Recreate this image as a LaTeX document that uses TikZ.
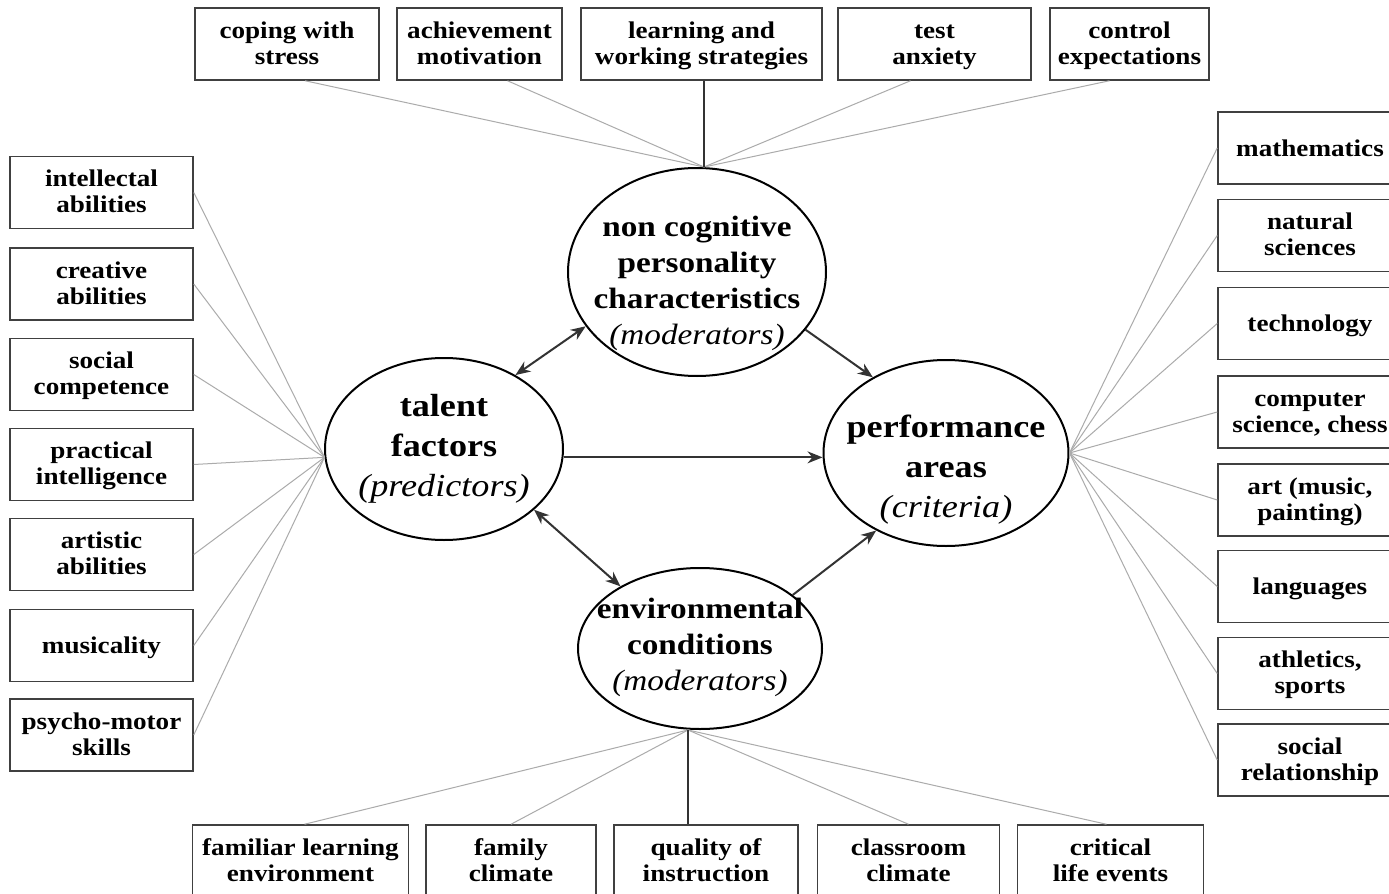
\documentclass[tikz,border=0pt]{standalone}
\usepackage{fontspec}
\setmainfont{Liberation Serif}[FakeStretch=1.13]
\usetikzlibrary{arrows.meta,shapes.geometric}
\newcommand\twoline[2]{\rule{0pt}{10pt}#1\\#2\rule[-3pt]{0pt}{3pt}}
\newcommand\oneline[1]{\rule[-3pt]{0pt}{14pt}#1}
\begin{document}
\begin{tikzpicture}[x=0.5pt,y=-0.5pt,
  box/.style={draw=black!75, line width=0.75pt, align=center, inner sep=0pt,
    minimum height=36pt, font=\fontsize{12}{13}\selectfont\bfseries},
  lbox/.style={box, minimum width=91.5pt},
  rbox/.style={box, minimum width=92pt},
  ell/.style={draw=black, line width=1pt, ellipse, inner sep=0pt},
  etxt/.style={align=center, inner sep=0pt},
  small/.style={font=\fontsize{14.7}{18}\selectfont},
  big/.style={font=\fontsize{16}{20}\selectfont},
  thin/.style={draw=black!33, line width=0.5pt},
  stem/.style={draw=black!80, line width=0.8pt},
  arr/.style={draw=black!80, line width=1pt, -{Stealth[length=7.5pt,width=6pt]}},
  darr/.style={draw=black!80, line width=1pt, {Stealth[length=7.5pt,width=6pt]}-{Stealth[length=7.5pt,width=6pt]}},
]
\fill[white] (0,0) rectangle (1389,894);
\useasboundingbox (0,0) rectangle (1389,894);

% ellipses
\node[ell, minimum width=129pt, minimum height=104pt] (noncog) at (697,272) {};
\node[ell, minimum width=119pt, minimum height=91pt] (talent) at (444,449) {};
\node[ell, minimum width=122.5pt, minimum height=93pt] (perf) at (946,453) {};
\node[ell, minimum width=122pt, minimum height=80.5pt] (env) at (700,648.5) {};

\node[etxt, small] (noncogT) at ([yshift=-5.75pt]noncog.center)
  {\textbf{non cognitive}\\\textbf{personality}\\\textbf{characteristics}\\\textit{(moderators)}};
\node[etxt, big] (talentT) at ([yshift=0pt]talent.center)
  {\textbf{talent}\\\textbf{factors}\\\textit{(predictors)}};
\node[etxt, big] (perfT) at ([yshift=-8.5pt]perf.center)
  {\textbf{performance}\\\textbf{areas}\\\textit{(criteria)}};
\node[etxt, small] (envT) at ([yshift=0.5pt]env.center)
  {\textbf{environmental}\\\textbf{conditions}\\\textit{(moderators)}};

% top boxes
\node[box, minimum width=92pt] (coping) at (287,44) {\twoline{coping with}{stress}};
\node[box, minimum width=82.5pt] (achieve) at (479.5,44) {\twoline{achievement}{motivation}};
\node[box, minimum width=120.5pt] (learn) at (701.5,44) {\twoline{learning and}{working strategies}};
\node[box, minimum width=96.5pt] (test) at (934.5,44) {\twoline{test}{anxiety}};
\node[box, minimum width=79.5pt] (control) at (1129.5,44) {\twoline{control}{expectations}};

% left boxes
\node[lbox] (intel) at (101.5,192.5) {\twoline{intellectal}{abilities}};
\node[lbox] (creative) at (101.5,284) {\twoline{creative}{abilities}};
\node[lbox] (social) at (101.5,374.5) {\twoline{social}{competence}};
\node[lbox] (practical) at (101.5,464.5) {\twoline{practical}{intelligence}};
\node[lbox] (artistic) at (101.5,554.5) {\twoline{artistic}{abilities}};
\node[lbox] (music) at (101.5,645.5) {\oneline{musicality}};
\node[lbox] (psycho) at (101.5,735) {\twoline{psycho-motor}{skills}};

% right boxes
\node[rbox] (math) at (1310,148) {\oneline{mathematics}};
\node[rbox] (natural) at (1310,235.5) {\twoline{natural}{sciences}};
\node[rbox] (tech) at (1310,323.5) {\oneline{technology}};
\node[rbox] (comp) at (1310,412) {\twoline{computer}{science, chess}};
\node[rbox] (art) at (1310,500) {\twoline{art (music,}{painting)}};
\node[rbox] (lang) at (1310,586.5) {\oneline{languages}};
\node[rbox] (ath) at (1310,673.5) {\twoline{athletics,}{sports}};
\node[rbox] (socrel) at (1310,760) {\twoline{social}{relationship}};

% bottom boxes
\node[box, minimum width=108pt] (familiar) at (300.5,861) {\twoline{familiar learning}{environment}};
\node[box, minimum width=85pt] (family) at (511,861) {\twoline{family}{climate}};
\node[box, minimum width=92pt] (quality) at (706,861) {\twoline{quality of}{instruction}};
\node[box, minimum width=91pt] (classroom) at (908.5,861) {\twoline{classroom}{climate}};
\node[box, minimum width=93pt] (critical) at (1110.5,861) {\twoline{critical}{life events}};

% top connectors
\coordinate (ntop) at ([xshift=3.5pt]noncog.north);
\draw[thin] ([xshift=9pt]coping.south) -- (ntop);
\draw[thin] ([xshift=14pt]achieve.south) -- (ntop);
\draw[thin] ([xshift=-12pt]test.south) -- (ntop);
\draw[thin] ([xshift=-10pt]control.south) -- (ntop);
\draw[stem] (ntop) -- (ntop |- learn.south);

% bottom connectors
\coordinate (ebot) at ([xshift=-6pt]env.south);
\draw[thin] ([xshift=2pt]familiar.north) -- (ebot);
\draw[thin] (family.north) -- (ebot);
\draw[thin] (classroom.north) -- (ebot);
\draw[thin] ([xshift=-2pt]critical.north) -- (ebot);
\draw[stem] (ebot) -- (ebot |- quality.north);

% left connectors
\coordinate (tleft) at (talent.184);
\foreach \b in {intel,creative,social,practical,artistic,music,psycho}
  \draw[thin] (\b.east) -- (tleft);

% right connectors
\coordinate (pr) at (perf.east);
\foreach \b in {math,natural,tech,comp,art,lang,ath,socrel}
  \draw[thin] (\b.west) -- (pr);

% arrows
\draw[darr] (talent.46) -- (noncog.206);
\draw[arr] (noncog.-28) -- (perf.134);
\draw[arr] (talent.-4) -- (talent.-4 -| perf.west);
\draw[darr] (talent.-34) -- (env.142);
\draw[arr] (env.30) -- (perf.228);
\end{tikzpicture}
\end{document}
